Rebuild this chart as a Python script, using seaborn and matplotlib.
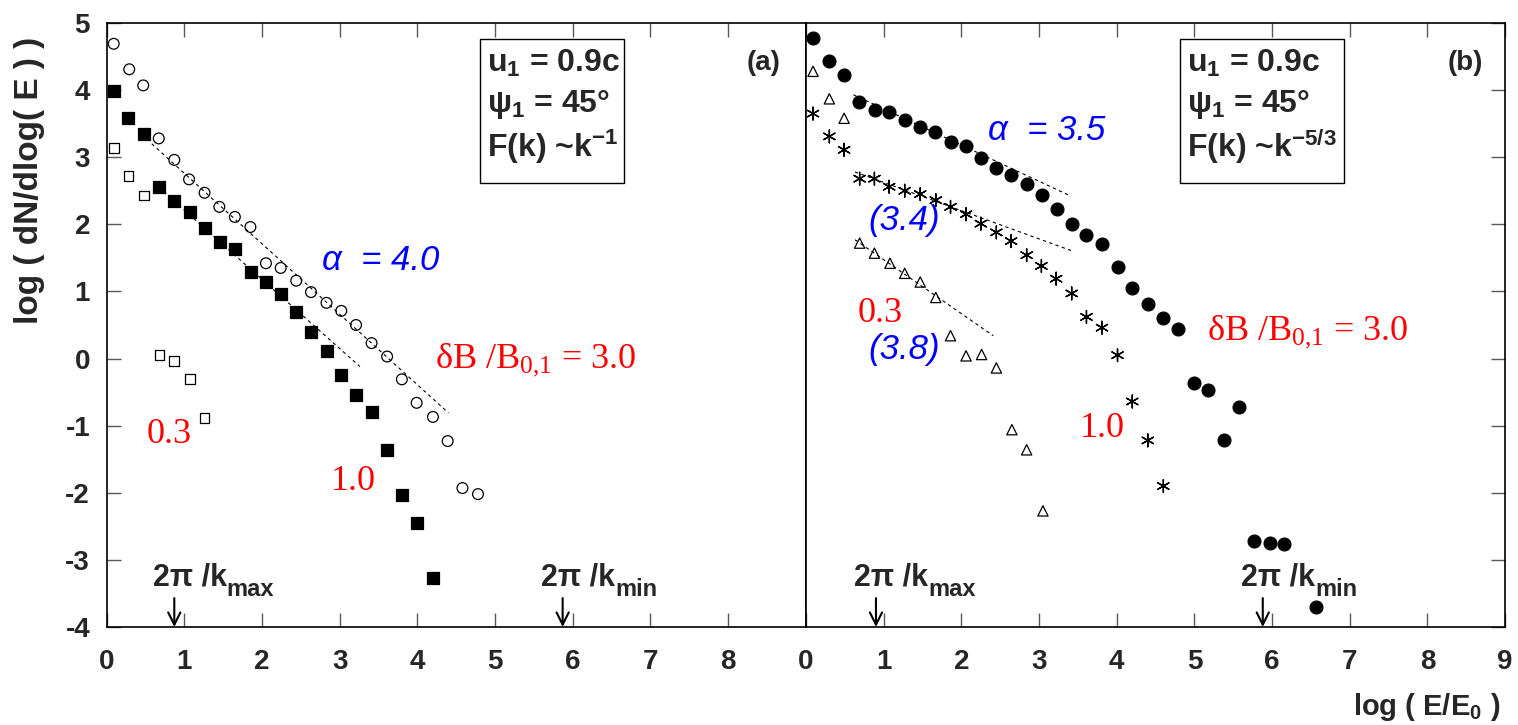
import matplotlib
matplotlib.use("Agg")
import matplotlib.pyplot as plt
import matplotlib.patches as patches
import pandas as pd
import seaborn as sns

# ---- data ----
# panel (a): F(k) ~ k^-1
a_open_circle_x = [0.09, 0.29, 0.47, 0.67, 0.87, 1.06, 1.26, 1.45, 1.65, 1.85, 2.05, 2.24, 2.44,
                   2.63, 2.83, 3.02, 3.21, 3.41, 3.61, 3.80, 3.99, 4.20, 4.39, 4.58, 4.78]
a_open_circle_y = [4.69, 4.31, 4.07, 3.28, 2.96, 2.67, 2.47, 2.26, 2.11, 1.96, 1.42, 1.35, 1.16,
                   0.99, 0.83, 0.71, 0.50, 0.23, 0.03, -0.31, -0.66, -0.87, -1.23, -1.93, -2.02]
a_filled_square_x = [0.09, 0.28, 0.48, 0.67, 0.87, 1.07, 1.26, 1.46, 1.65, 1.86, 2.05, 2.24,
                     2.44, 2.63, 2.83, 3.02, 3.21, 3.41, 3.61, 3.80, 3.99, 4.20]
a_filled_square_y = [3.99, 3.59, 3.34, 2.55, 2.34, 2.19, 1.95, 1.73, 1.63, 1.29, 1.14, 0.96,
                     0.69, 0.40, 0.11, -0.25, -0.55, -0.80, -1.37, -2.03, -2.45, -3.27]
a_open_square_x = [0.09, 0.28, 0.48, 0.68, 0.87, 1.07, 1.26]
a_open_square_y = [3.14, 2.72, 2.43, 0.05, -0.04, -0.30, -0.88]

a_fit1_x = [0.58, 4.40]
a_fit1_y = [3.20, -0.81]
a_fit2_x = [0.67, 3.26]
a_fit2_y = [2.55, -0.12]

# panel (b): F(k) ~ k^-5/3
b_filled_circle_x = [0.09, 0.30, 0.49, 0.68, 0.89, 1.07, 1.27, 1.47, 1.66, 1.86, 2.06, 2.25, 2.45,
                     2.64, 2.84, 3.04, 3.23, 3.43, 3.61, 3.81, 4.01, 4.20, 4.40, 4.60, 4.79, 4.99,
                     5.18, 5.38, 5.58, 5.77, 5.97, 6.15, 6.56]
b_filled_circle_y = [4.77, 4.43, 4.23, 3.82, 3.70, 3.68, 3.56, 3.45, 3.37, 3.23, 3.16, 2.99, 2.84,
                     2.73, 2.60, 2.44, 2.23, 2.00, 1.84, 1.70, 1.37, 1.05, 0.81, 0.61, 0.44, -0.37,
                     -0.47, -1.21, -0.72, -2.72, -2.75, -2.76, -3.70]
b_star_x = [0.09, 0.30, 0.49, 0.69, 0.88, 1.07, 1.27, 1.47, 1.67, 1.86, 2.06, 2.25, 2.45, 2.64,
            2.84, 3.03, 3.22, 3.42, 3.61, 3.81, 4.01, 4.20, 4.40, 4.60]
b_star_y = [3.65, 3.31, 3.11, 2.68, 2.68, 2.56, 2.50, 2.45, 2.36, 2.26, 2.15, 2.01, 1.88, 1.75,
            1.54, 1.38, 1.19, 0.97, 0.62, 0.46, 0.05, -0.64, -1.22, -1.90]
b_triangle_x = [0.09, 0.30, 0.49, 0.69, 0.88, 1.08, 1.27, 1.47, 1.67, 1.86, 2.06, 2.26, 2.45,
                2.65, 2.84, 3.05]
b_triangle_y = [4.28, 3.87, 3.58, 1.72, 1.57, 1.42, 1.27, 1.14, 0.91, 0.34, 0.04, 0.06, -0.14,
                -1.06, -1.36, -2.27]

b_fit1_x = [0.61, 3.41]
b_fit1_y = [3.93, 2.42]
b_fit2_x = [0.63, 3.41]
b_fit2_y = [2.78, 1.61]
b_fit3_x = [0.63, 2.41]
b_fit3_y = [1.77, 0.34]

# wavelength markers 2pi/k_max and 2pi/k_min
k_arrow_a = [0.87, 5.87]
k_arrow_b = [0.90, 5.88]

x_ticks_a = list(range(0, 9))
x_ticks_b = list(range(0, 10))
y_ticks = list(range(-4, 6))

# ---- style ----
sns.set_theme(style="ticks")
plt.rcParams["font.family"] = ["Liberation Sans", "DejaVu Sans"]
plt.rcParams["font.weight"] = "bold"
plt.rcParams["mathtext.default"] = "regular"
plt.rcParams["axes.unicode_minus"] = False

fig = plt.figure(figsize=(15.18, 7.25), dpi=100)
ax1 = fig.add_axes([0.0703, 0.1352, 0.4605, 0.8331])
ax2 = fig.add_axes([0.5310, 0.1352, 0.4605, 0.8331])


def scatter(ax, x, y, marker, s, filled, lw=0.9):
    df = pd.DataFrame({"x": x, "y": y})
    sns.scatterplot(data=df, x="x", y="y", ax=ax, marker=marker, s=s,
                    color="black", edgecolor="black", linewidth=lw, zorder=3)
    pts = ax.collections[-1]
    pts.set_edgecolor("black")
    pts.set_facecolor("black" if filled else "none")


def fit(ax, x, y):
    sns.lineplot(x=x, y=y, ax=ax, color="black", lw=0.8,
                 linestyle=(0, (3, 3)), estimator=None, zorder=2)


# panel (a)
scatter(ax1, a_open_circle_x, a_open_circle_y, "o", 60, False)
scatter(ax1, a_filled_square_x, a_filled_square_y, "s", 70, True)
scatter(ax1, a_open_square_x, a_open_square_y, "s", 50, False)
fit(ax1, a_fit1_x, a_fit1_y)
fit(ax1, a_fit2_x, a_fit2_y)

# panel (b)
scatter(ax2, b_filled_circle_x, b_filled_circle_y, "o", 85, True)
scatter(ax2, b_star_x, b_star_y, (6, 2, 0), 85, False, lw=1.0)
scatter(ax2, b_triangle_x, b_triangle_y, "^", 55, False)
fit(ax2, b_fit1_x, b_fit1_y)
fit(ax2, b_fit2_x, b_fit2_y)
fit(ax2, b_fit3_x, b_fit3_y)

# axes setup
for ax, ticks in [(ax1, x_ticks_a), (ax2, x_ticks_b)]:
    ax.set_xlim(0, 9)
    ax.set_ylim(-4, 5)
    ax.set_xticks(ticks)
    ax.set_yticks(y_ticks)
    ax.set_xlabel("")
    ax.set_ylabel("")
    for sp in ax.spines.values():
        sp.set_visible(True)
        sp.set_color("black")
        sp.set_linewidth(1.2)
    ax.tick_params(direction="in", length=10, width=1, color="0.35",
                   labelsize=20, top=True, bottom=True)

ax1.tick_params(axis="y", left=True, right=False, pad=12)
ax1.tick_params(axis="x", pad=16)
ax2.tick_params(axis="y", left=False, right=True, labelleft=False)
ax2.tick_params(axis="x", pad=16)
for lab in ax1.get_xticklabels() + ax1.get_yticklabels() + ax2.get_xticklabels():
    lab.set_fontweight("bold")

ax1.set_ylabel("log ( dN/dlog( E ) )", fontsize=24, fontweight="bold")
ax1.yaxis.set_label_coords(-0.088, 0.74)
ax2.set_xlabel("log ( E/E$_0$ )", fontsize=21, fontweight="bold", ha="right", va="center")
ax2.xaxis.set_label_coords(0.993, -0.132)

# parameter boxes
box_lines_a = ["u$_1$ = 0.9c", "ψ$_1$ = 45°", "F(k) ~k$^{-1}$"]
box_lines_b = ["u$_1$ = 0.9c", "ψ$_1$ = 45°", "F(k) ~k$^{-5/3}$"]
for ax, lines, w in [(ax1, box_lines_a, 1.85), (ax2, box_lines_b, 2.11)]:
    ax.add_patch(patches.Rectangle((4.81, 2.62), w, 2.14, fc="white", ec="black",
                                   lw=1.0, zorder=4))
    for line, yy in zip(lines, [4.40, 3.78, 3.16]):
        ax.text(4.90, yy, line, fontsize=23, fontweight="bold", va="center",
                ha="left", zorder=5)

ax1.text(8.68, 4.40, "(a)", fontsize=20, fontweight="bold", ha="right", va="center")
ax2.text(8.72, 4.40, "(b)", fontsize=20, fontweight="bold", ha="right", va="center")

# annotations
blue = dict(color="#0000ff", fontsize=25, fontstyle="italic", fontweight="normal",
            va="baseline", ha="left", zorder=5)
red = dict(color="#ff0000", fontsize=26, family="Liberation Serif", fontweight="normal",
           va="baseline", ha="left", zorder=5)

ax1.text(2.77, 1.32, "α  = 4.0", **blue)
ax1.text(4.23, -0.13, "δB /B$_{0{,}1}$ = 3.0", **red)
ax1.text(0.52, -1.26, "0.3", **red)
ax1.text(2.88, -1.96, "1.0", **red)

ax2.text(2.34, 3.26, "α  = 3.5", **blue)
ax2.text(0.80, 1.92, "(3.4)", **blue)
ax2.text(0.80, 0.00, "(3.8)", **blue)
ax2.text(0.67, 0.55, "0.3", **red)
ax2.text(3.53, -1.17, "1.0", **red)
ax2.text(5.16, 0.29, "δB /B$_{0{,}1}$ = 3.0", **red)


def k_label(ax, xa, sub):
    t = ax.text(xa - 0.28, -3.27, "2π /k", fontsize=22, fontweight="bold",
                ha="left", va="center", zorder=5)
    ax.annotate(sub, xy=(1, 0.12), xycoords=t, fontsize=17, fontweight="bold",
                ha="left", va="center", zorder=5)
    ax.annotate("", xy=(xa, -4.0), xytext=(xa, -3.57),
                arrowprops=dict(arrowstyle="->", color="black", lw=1.5,
                                shrinkA=0, shrinkB=0, mutation_scale=22))


for ax, arrows in [(ax1, k_arrow_a), (ax2, k_arrow_b)]:
    k_label(ax, arrows[0], "max")
    k_label(ax, arrows[1], "min")

plt.savefig("out.png", dpi=100)
